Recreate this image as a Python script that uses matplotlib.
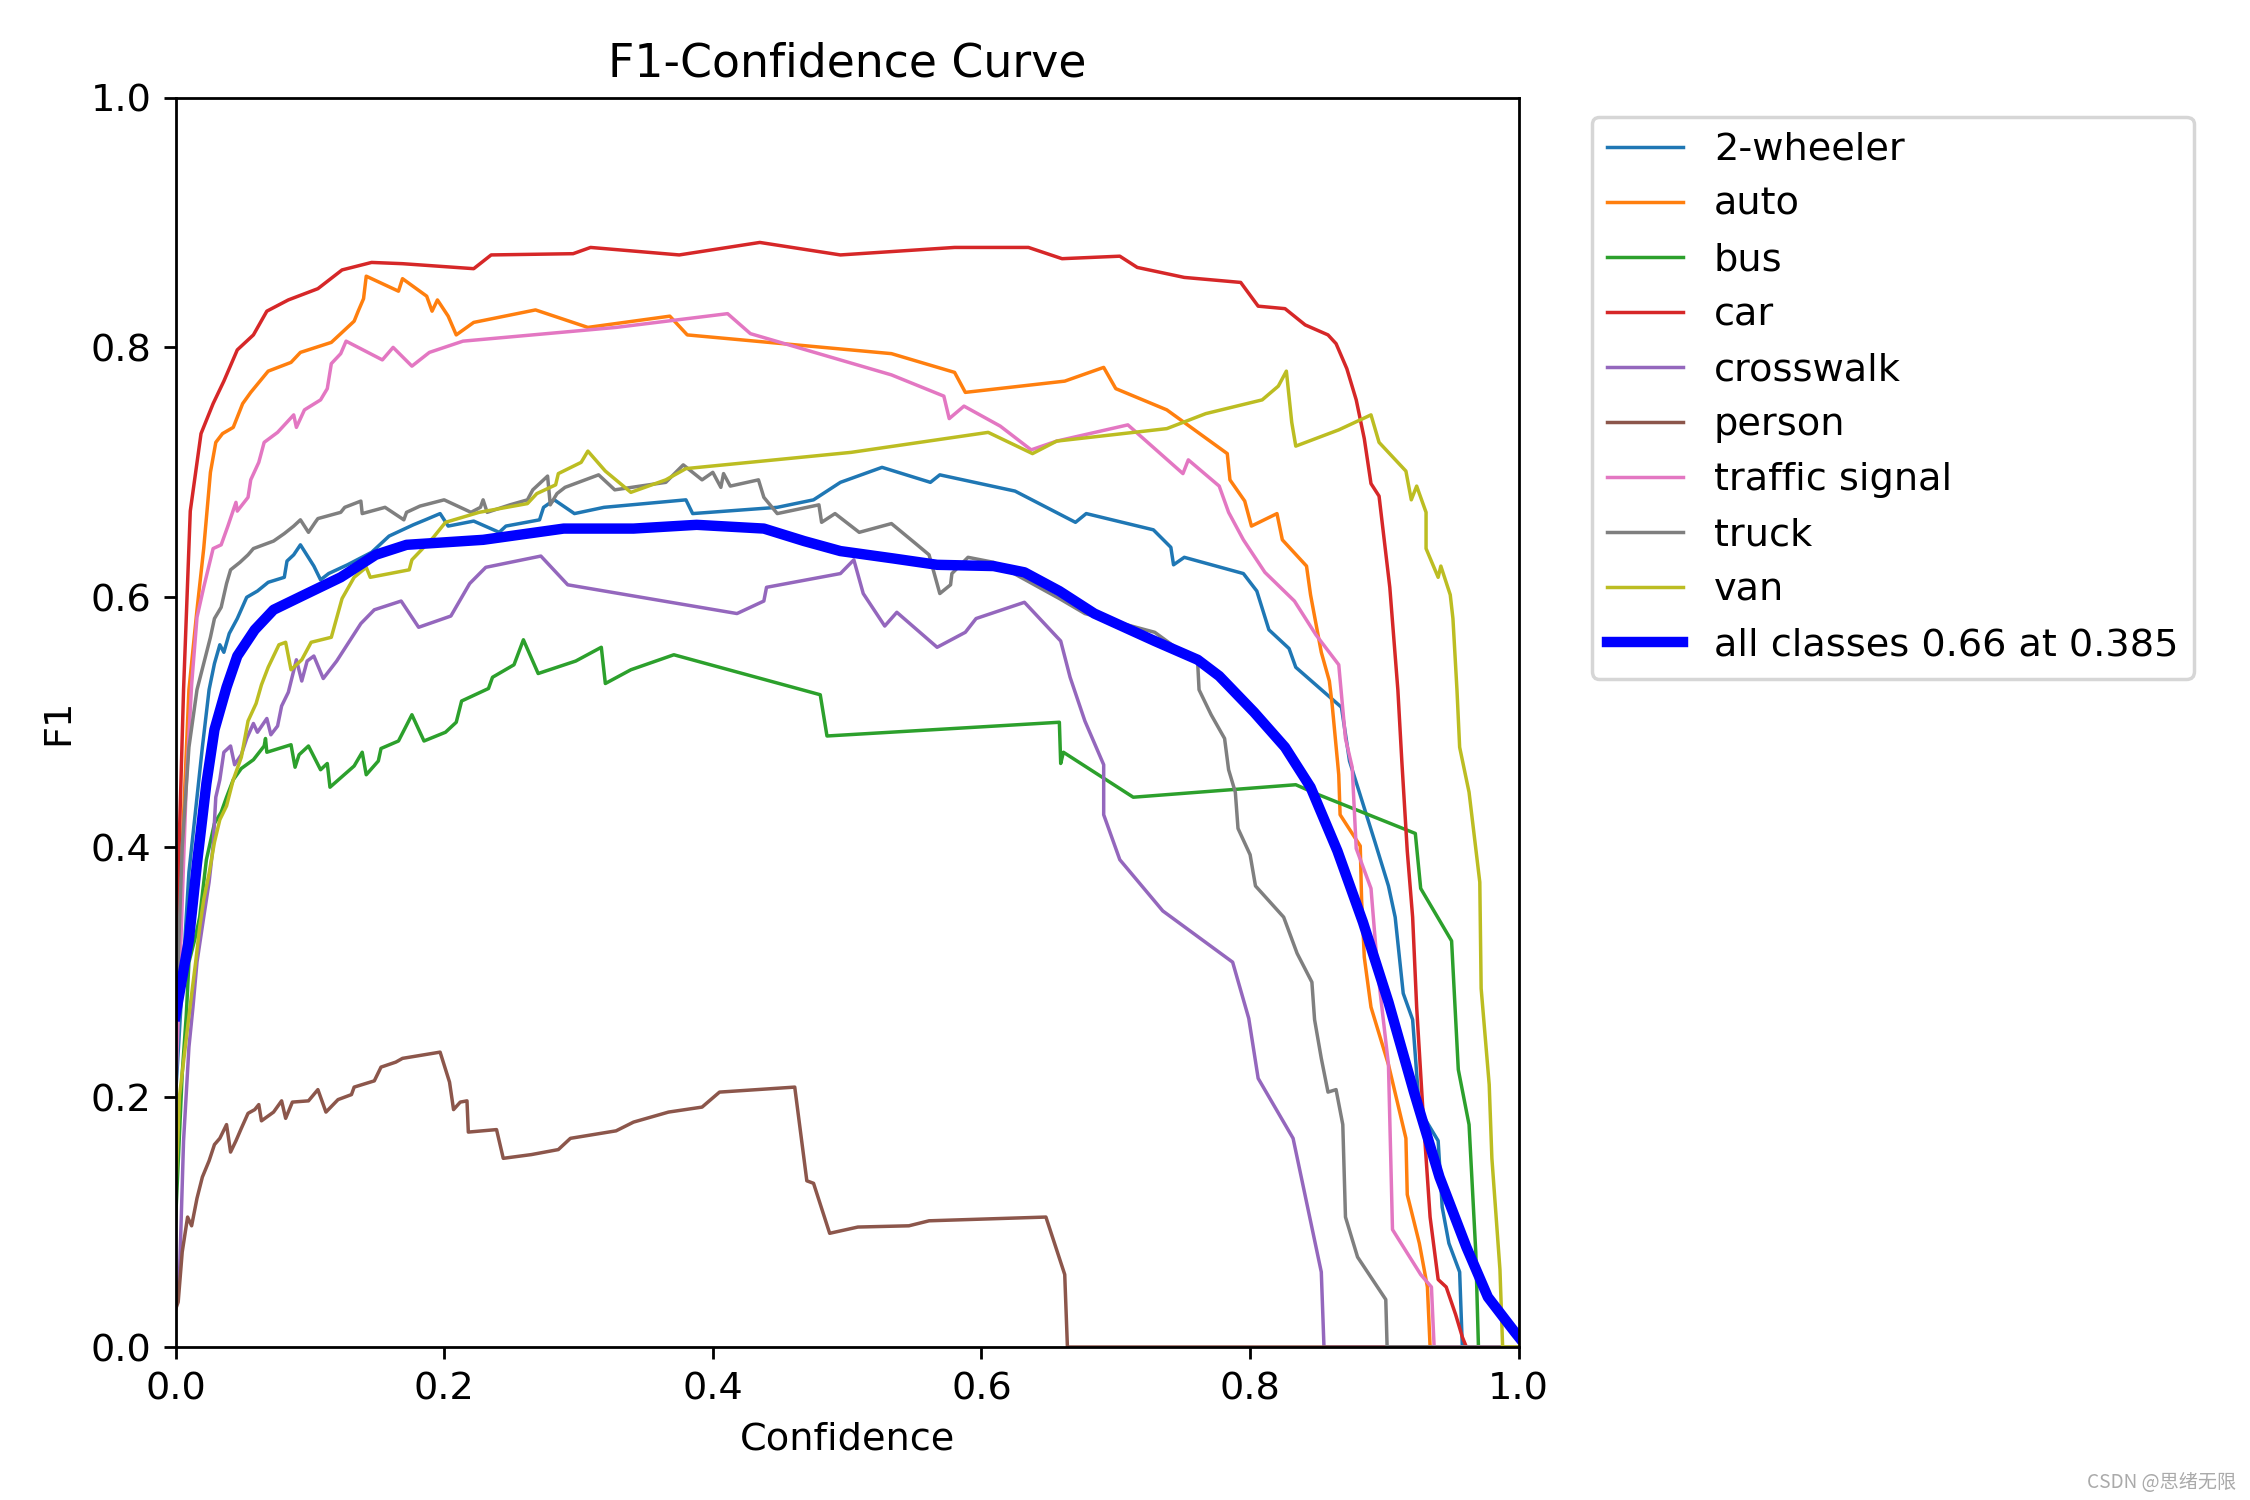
import matplotlib.pyplot as plt
import numpy as np

# F1 vs confidence, (confidence, f1) points
two_wheeler = [(0.0, 0.2), (0.01, 0.38), (0.02, 0.48), (0.025, 0.526), (0.029, 0.547), (0.033, 0.562),
               (0.036, 0.556), (0.040, 0.571), (0.046, 0.583), (0.053, 0.600), (0.061, 0.605), (0.069, 0.612),
               (0.081, 0.616), (0.083, 0.629), (0.088, 0.634), (0.093, 0.642), (0.103, 0.625), (0.108, 0.614),
               (0.114, 0.619), (0.128, 0.626), (0.146, 0.636), (0.159, 0.649), (0.177, 0.658), (0.186, 0.662),
               (0.197, 0.667), (0.203, 0.657), (0.222, 0.661), (0.241, 0.652), (0.246, 0.657), (0.271, 0.662),
               (0.274, 0.672), (0.282, 0.678), (0.297, 0.667), (0.319, 0.672), (0.380, 0.678), (0.385, 0.667),
               (0.448, 0.672), (0.475, 0.678), (0.495, 0.692), (0.526, 0.704), (0.562, 0.692), (0.569, 0.698),
               (0.625, 0.685), (0.670, 0.660), (0.678, 0.667), (0.728, 0.654), (0.741, 0.640), (0.743, 0.626),
               (0.751, 0.632), (0.795, 0.619), (0.805, 0.605), (0.814, 0.574), (0.829, 0.559), (0.834, 0.544),
               (0.868, 0.512), (0.874, 0.469), (0.893, 0.404), (0.903, 0.369), (0.908, 0.344), (0.914, 0.283),
               (0.921, 0.262), (0.926, 0.190), (0.940, 0.165), (0.943, 0.112), (0.948, 0.083), (0.956, 0.060),
               (0.958, 0.0), (1.0, 0.0)]

auto = [(0.0, 0.25), (0.005, 0.40), (0.010, 0.526), (0.016, 0.590), (0.021, 0.639), (0.026, 0.700),
        (0.030, 0.724), (0.035, 0.731), (0.043, 0.736), (0.050, 0.755), (0.056, 0.764), (0.069, 0.781),
        (0.086, 0.788), (0.093, 0.796), (0.116, 0.804), (0.133, 0.821), (0.136, 0.829), (0.140, 0.839),
        (0.142, 0.857), (0.166, 0.845), (0.169, 0.855), (0.187, 0.841), (0.191, 0.829), (0.195, 0.838),
        (0.203, 0.825), (0.209, 0.810), (0.222, 0.820), (0.268, 0.830), (0.307, 0.816), (0.368, 0.825),
        (0.381, 0.810), (0.533, 0.795), (0.580, 0.780), (0.588, 0.764), (0.662, 0.773), (0.691, 0.784),
        (0.700, 0.767), (0.738, 0.750), (0.783, 0.715), (0.785, 0.694), (0.796, 0.677), (0.801, 0.657),
        (0.820, 0.667), (0.824, 0.646), (0.842, 0.625), (0.845, 0.602), (0.853, 0.556), (0.859, 0.533),
        (0.861, 0.515), (0.866, 0.458), (0.867, 0.426), (0.882, 0.401), (0.883, 0.358), (0.885, 0.312),
        (0.890, 0.272), (0.903, 0.226), (0.916, 0.167), (0.917, 0.122), (0.926, 0.083), (0.932, 0.048),
        (0.934, 0.0), (1.0, 0.0)]

bus = [(0.0, 0.10), (0.005, 0.219), (0.008, 0.265), (0.010, 0.308), (0.015, 0.329), (0.018, 0.344),
       (0.023, 0.390), (0.029, 0.419), (0.034, 0.428), (0.038, 0.440), (0.043, 0.454), (0.049, 0.463),
       (0.058, 0.470), (0.066, 0.481), (0.067, 0.487), (0.068, 0.476), (0.086, 0.482), (0.089, 0.464),
       (0.092, 0.474), (0.099, 0.481), (0.108, 0.462), (0.113, 0.467), (0.115, 0.448), (0.133, 0.465),
       (0.139, 0.476), (0.142, 0.458), (0.151, 0.469), (0.153, 0.479), (0.166, 0.485), (0.176, 0.506),
       (0.185, 0.485), (0.201, 0.492), (0.209, 0.500), (0.213, 0.517), (0.233, 0.527), (0.236, 0.536),
       (0.252, 0.546), (0.259, 0.566), (0.270, 0.539), (0.298, 0.549), (0.317, 0.560), (0.320, 0.531),
       (0.339, 0.542), (0.371, 0.554), (0.480, 0.522), (0.485, 0.489), (0.658, 0.500), (0.659, 0.467),
       (0.661, 0.476), (0.713, 0.440), (0.834, 0.450), (0.851, 0.442), (0.923, 0.411), (0.927, 0.367),
       (0.950, 0.325), (0.955, 0.222), (0.963, 0.178), (0.968, 0.076), (0.970, 0.0), (1.0, 0.0)]

car = [(0.0, 0.30), (0.006, 0.526), (0.011, 0.669), (0.019, 0.731), (0.028, 0.755), (0.036, 0.773),
       (0.046, 0.798), (0.058, 0.810), (0.068, 0.829), (0.084, 0.838), (0.106, 0.847), (0.124, 0.862),
       (0.146, 0.868), (0.169, 0.867), (0.222, 0.863), (0.235, 0.874), (0.296, 0.875), (0.309, 0.880),
       (0.375, 0.874), (0.435, 0.884), (0.495, 0.874), (0.580, 0.880), (0.635, 0.880), (0.660, 0.871),
       (0.703, 0.873), (0.716, 0.864), (0.751, 0.856), (0.793, 0.852), (0.806, 0.833), (0.826, 0.831),
       (0.841, 0.818), (0.858, 0.810), (0.864, 0.803), (0.872, 0.783), (0.879, 0.758), (0.885, 0.727),
       (0.890, 0.691), (0.896, 0.681), (0.904, 0.608), (0.910, 0.526), (0.913, 0.468), (0.917, 0.397),
       (0.921, 0.344), (0.924, 0.272), (0.929, 0.183), (0.934, 0.104), (0.940, 0.054), (0.946, 0.048),
       (0.953, 0.026), (0.958, 0.008), (0.961, 0.0), (1.0, 0.0)]

crosswalk = [(0.0, 0.03), (0.003, 0.058), (0.006, 0.165), (0.010, 0.240), (0.013, 0.272), (0.016, 0.308),
             (0.021, 0.344), (0.025, 0.372), (0.028, 0.401), (0.030, 0.440), (0.033, 0.454), (0.036, 0.476),
             (0.041, 0.481), (0.044, 0.466), (0.049, 0.474), (0.053, 0.487), (0.058, 0.499), (0.061, 0.492),
             (0.068, 0.503), (0.071, 0.490), (0.076, 0.497), (0.079, 0.513), (0.084, 0.524), (0.090, 0.550),
             (0.094, 0.533), (0.098, 0.549), (0.103, 0.553), (0.110, 0.535), (0.120, 0.549), (0.129, 0.564),
             (0.138, 0.579), (0.148, 0.590), (0.168, 0.597), (0.181, 0.576), (0.205, 0.585), (0.219, 0.611),
             (0.231, 0.624), (0.272, 0.633), (0.292, 0.610), (0.418, 0.587), (0.438, 0.597), (0.440, 0.608),
             (0.495, 0.619), (0.505, 0.630), (0.512, 0.603), (0.528, 0.577), (0.537, 0.588), (0.567, 0.560),
             (0.588, 0.572), (0.596, 0.583), (0.632, 0.596), (0.659, 0.565), (0.666, 0.536), (0.677, 0.501),
             (0.691, 0.466), (0.691, 0.426), (0.703, 0.390), (0.735, 0.349), (0.787, 0.308), (0.799, 0.263),
             (0.806, 0.215), (0.832, 0.167), (0.853, 0.060), (0.855, 0.0), (1.0, 0.0)]

person = [(0.0, 0.03), (0.002, 0.036), (0.005, 0.076), (0.009, 0.104), (0.012, 0.097), (0.016, 0.119),
          (0.020, 0.136), (0.025, 0.149), (0.029, 0.162), (0.033, 0.167), (0.038, 0.178), (0.041, 0.156),
          (0.045, 0.165), (0.049, 0.175), (0.054, 0.187), (0.059, 0.190), (0.062, 0.194), (0.064, 0.181),
          (0.073, 0.188), (0.079, 0.197), (0.082, 0.183), (0.087, 0.196), (0.099, 0.197), (0.106, 0.206),
          (0.112, 0.188), (0.121, 0.198), (0.131, 0.202), (0.133, 0.208), (0.148, 0.213), (0.153, 0.224),
          (0.164, 0.228), (0.169, 0.231), (0.197, 0.236), (0.204, 0.212), (0.207, 0.190), (0.212, 0.196),
          (0.217, 0.197), (0.218, 0.172), (0.239, 0.174), (0.244, 0.151), (0.265, 0.154), (0.285, 0.158),
          (0.294, 0.167), (0.328, 0.173), (0.341, 0.180), (0.367, 0.188), (0.392, 0.192), (0.405, 0.204),
          (0.461, 0.208), (0.470, 0.133), (0.475, 0.131), (0.487, 0.091), (0.508, 0.096), (0.546, 0.097),
          (0.561, 0.101), (0.648, 0.104), (0.662, 0.058), (0.664, 0.0), (1.0, 0.0)]

traffic_signal = [(0.0, 0.2), (0.008, 0.45), (0.012, 0.53), (0.016, 0.584), (0.021, 0.608), (0.028, 0.639),
                  (0.034, 0.642), (0.039, 0.657), (0.045, 0.676), (0.046, 0.669), (0.054, 0.680), (0.056, 0.694),
                  (0.062, 0.708), (0.066, 0.724), (0.076, 0.732), (0.088, 0.746), (0.090, 0.736), (0.096, 0.750),
                  (0.108, 0.758), (0.113, 0.767), (0.116, 0.787), (0.123, 0.795), (0.127, 0.805), (0.154, 0.790),
                  (0.162, 0.800), (0.176, 0.785), (0.189, 0.796), (0.214, 0.805), (0.328, 0.816), (0.411, 0.827),
                  (0.428, 0.811), (0.533, 0.778), (0.572, 0.761), (0.576, 0.743), (0.587, 0.753), (0.614, 0.737),
                  (0.637, 0.718), (0.656, 0.725), (0.709, 0.738), (0.750, 0.699), (0.754, 0.710), (0.777, 0.689),
                  (0.784, 0.668), (0.795, 0.646), (0.811, 0.620), (0.833, 0.597), (0.849, 0.570), (0.866, 0.546),
                  (0.871, 0.487), (0.876, 0.464), (0.879, 0.399), (0.890, 0.367), (0.895, 0.301), (0.903, 0.226),
                  (0.906, 0.094), (0.927, 0.058), (0.935, 0.048), (0.937, 0.0), (1.0, 0.0)]

truck = [(0.0, 0.25), (0.005, 0.40), (0.010, 0.48), (0.016, 0.526), (0.021, 0.547), (0.026, 0.568),
         (0.029, 0.583), (0.034, 0.592), (0.038, 0.611), (0.041, 0.622), (0.048, 0.628), (0.054, 0.634),
         (0.058, 0.639), (0.073, 0.645), (0.081, 0.651), (0.088, 0.657), (0.093, 0.662), (0.099, 0.652),
         (0.104, 0.660), (0.106, 0.663), (0.123, 0.668), (0.126, 0.672), (0.138, 0.677), (0.139, 0.667),
         (0.156, 0.672), (0.170, 0.662), (0.172, 0.668), (0.182, 0.673), (0.200, 0.678), (0.220, 0.668),
         (0.227, 0.672), (0.229, 0.678), (0.232, 0.668), (0.249, 0.674), (0.262, 0.678), (0.266, 0.686),
         (0.277, 0.697), (0.279, 0.674), (0.284, 0.683), (0.290, 0.688), (0.305, 0.694), (0.315, 0.698),
         (0.327, 0.686), (0.365, 0.692), (0.378, 0.706), (0.392, 0.694), (0.400, 0.700), (0.406, 0.688),
         (0.408, 0.699), (0.413, 0.689), (0.434, 0.694), (0.438, 0.680), (0.448, 0.667), (0.479, 0.674),
         (0.481, 0.660), (0.491, 0.667), (0.509, 0.652), (0.533, 0.659), (0.551, 0.643), (0.561, 0.634),
         (0.569, 0.603), (0.577, 0.610), (0.578, 0.619), (0.590, 0.632), (0.609, 0.628), (0.658, 0.599),
         (0.677, 0.587), (0.729, 0.572), (0.761, 0.547), (0.762, 0.526), (0.771, 0.506), (0.781, 0.487),
         (0.784, 0.462), (0.789, 0.444), (0.791, 0.415), (0.800, 0.394), (0.804, 0.369), (0.825, 0.344),
         (0.835, 0.315), (0.846, 0.292), (0.848, 0.262), (0.853, 0.231), (0.858, 0.204), (0.864, 0.206),
         (0.869, 0.178), (0.871, 0.104), (0.880, 0.072), (0.901, 0.038), (0.902, 0.0), (1.0, 0.0)]

van = [(0.0, 0.12), (0.003, 0.201), (0.010, 0.265), (0.015, 0.308), (0.018, 0.336), (0.021, 0.358),
       (0.025, 0.379), (0.029, 0.404), (0.033, 0.422), (0.038, 0.433), (0.043, 0.454), (0.049, 0.472),
       (0.054, 0.501), (0.060, 0.515), (0.064, 0.530), (0.069, 0.544), (0.077, 0.562), (0.082, 0.564),
       (0.086, 0.542), (0.094, 0.550), (0.101, 0.564), (0.116, 0.568), (0.124, 0.599), (0.133, 0.616),
       (0.142, 0.624), (0.145, 0.616), (0.174, 0.622), (0.176, 0.630), (0.192, 0.648), (0.201, 0.660),
       (0.226, 0.668), (0.262, 0.675), (0.269, 0.683), (0.283, 0.690), (0.285, 0.699), (0.302, 0.708),
       (0.307, 0.717), (0.320, 0.701), (0.339, 0.684), (0.365, 0.694), (0.380, 0.703), (0.503, 0.716),
       (0.605, 0.732), (0.638, 0.715), (0.656, 0.725), (0.738, 0.735), (0.767, 0.747), (0.809, 0.758),
       (0.821, 0.769), (0.827, 0.781), (0.831, 0.740), (0.834, 0.721), (0.866, 0.734), (0.890, 0.746),
       (0.896, 0.724), (0.916, 0.701), (0.920, 0.678), (0.924, 0.689), (0.931, 0.668), (0.931, 0.639),
       (0.940, 0.616), (0.942, 0.625), (0.949, 0.602), (0.951, 0.583), (0.954, 0.526), (0.956, 0.480),
       (0.963, 0.444), (0.971, 0.372), (0.972, 0.287), (0.978, 0.210), (0.980, 0.151), (0.986, 0.062),
       (0.988, 0.0), (1.0, 0.0)]

all_classes = [(0.0, 0.265), (0.010, 0.326), (0.016, 0.387), (0.023, 0.451), (0.029, 0.494), (0.038, 0.528),
               (0.046, 0.553), (0.059, 0.574), (0.073, 0.590), (0.096, 0.602), (0.123, 0.616), (0.149, 0.634),
               (0.172, 0.642), (0.229, 0.646), (0.289, 0.655), (0.341, 0.655), (0.388, 0.658), (0.438, 0.655),
               (0.468, 0.645), (0.495, 0.637), (0.535, 0.631), (0.567, 0.626), (0.609, 0.625), (0.632, 0.620),
               (0.658, 0.605), (0.684, 0.587), (0.729, 0.565), (0.761, 0.550), (0.777, 0.537), (0.803, 0.508),
               (0.826, 0.480), (0.845, 0.448), (0.865, 0.397), (0.884, 0.340), (0.903, 0.276), (0.922, 0.204),
               (0.941, 0.136), (0.961, 0.080), (0.977, 0.040), (0.997, 0.012), (1.0, 0.008)]

class_names = ['2-wheeler', 'auto', 'bus', 'car', 'crosswalk', 'person', 'traffic signal', 'truck', 'van']
class_curves = [two_wheeler, auto, bus, car, crosswalk, person, traffic_signal, truck, van]
all_label = 'all classes 0.66 at 0.385'

plt.rcParams['font.size'] = 11

fig, ax = plt.subplots(1, 1, figsize=(9, 6))
fig.subplots_adjust(left=0.078, right=0.675, bottom=0.102, top=0.935)

for name, pts in zip(class_names, class_curves):
    x, y = np.array(pts).T
    ax.plot(x, y, linewidth=1, label=name)

x, y = np.array(all_classes).T
ax.plot(x, y, linewidth=3, color='blue', label=all_label)

ax.set_xlabel('Confidence')
ax.set_ylabel('F1')
ax.set_xlim(0, 1)
ax.set_ylim(0, 1)
ax.legend(bbox_to_anchor=(1.04, 1), loc='upper left')
ax.set_title('F1-Confidence Curve')

fig.text(0.994, 0.012, 'CSDN @思绪无限', ha='right', va='center', fontsize=5.5,
         color='#aaaaaa', family=['Noto Sans CJK SC', 'DejaVu Sans'])

fig.savefig('out.png', dpi=250)
